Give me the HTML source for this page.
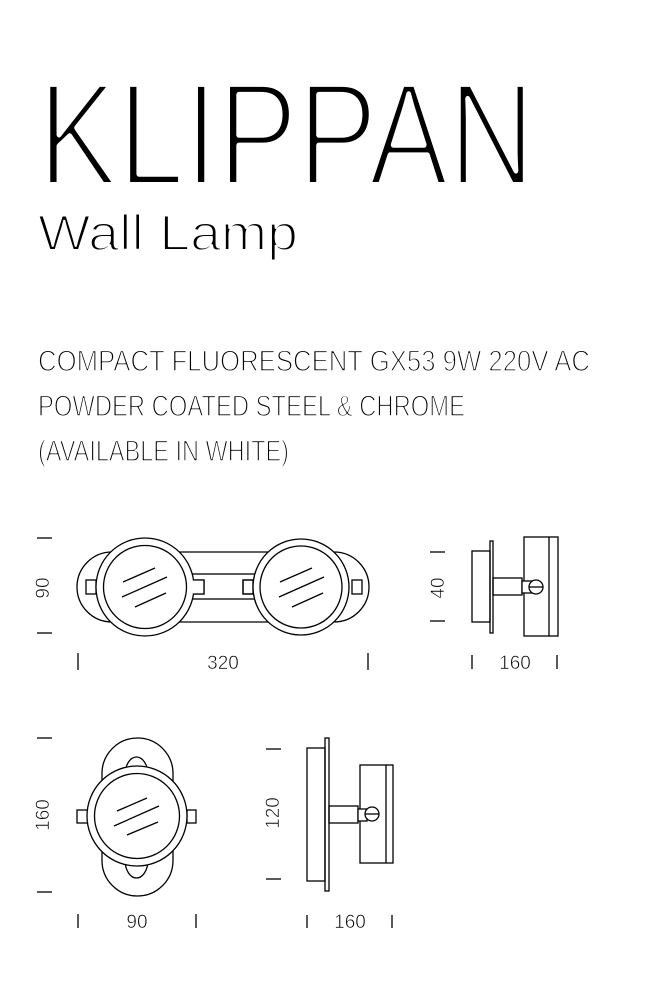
<!DOCTYPE html>
<html><head><meta charset="utf-8"><style>
html,body{margin:0;padding:0;background:#fff;}
svg{display:block;}
text{font-family:"Liberation Sans",sans-serif;}
</style></head><body>
<svg width="652" height="992" viewBox="0 0 652 992" xmlns="http://www.w3.org/2000/svg">
<text x="38" y="185" font-size="147" textLength="497" lengthAdjust="spacingAndGlyphs" fill="#000" stroke="#fff" stroke-width="6" stroke-linejoin="round">KLIPPAN</text>
<text x="38" y="250" font-size="50" textLength="260" lengthAdjust="spacingAndGlyphs" fill="#000" stroke="#fff" stroke-width="2" stroke-linejoin="round">Wall Lamp</text>
<g font-size="30" fill="#000" stroke="#fff" stroke-width="1.4" stroke-linejoin="round">
<text x="38" y="371" textLength="552" lengthAdjust="spacingAndGlyphs">COMPACT FLUORESCENT GX53 9W 220V AC</text>
<text x="38" y="416" textLength="427" lengthAdjust="spacingAndGlyphs">POWDER COATED STEEL &amp; CHROME</text>
<text x="38" y="461" textLength="251" lengthAdjust="spacingAndGlyphs">(AVAILABLE IN WHITE)</text>
</g>
<g fill="none" stroke="#000" stroke-width="1.3">
<line x1="37" y1="538" x2="52" y2="538"/><line x1="37" y1="633" x2="52" y2="633"/>
<line x1="78" y1="653" x2="78" y2="670"/><line x1="368" y1="653" x2="368" y2="670"/>
<circle cx="112" cy="587" r="35"/><circle cx="334" cy="587" r="35"/>
<path d="M177 552 H268 M177 622 H268"/>
<rect x="190" y="574" width="66" height="25" fill="#fff"/>
<rect x="86" y="580" width="10" height="14"/><rect x="193" y="580" width="11" height="14"/>
<rect x="243" y="580" width="10" height="14"/><rect x="352" y="580" width="10" height="14"/>
<circle cx="145" cy="587" r="49" fill="#fff"/><circle cx="145" cy="587" r="41.5"/>
<circle cx="301" cy="587" r="48" fill="#fff"/><circle cx="301" cy="587" r="41"/>
<rect x="193" y="580" width="11" height="14" fill="#fff" stroke="none"/>
<path d="M193 580 H204 V594 H193"/>
<path d="M253 580 H243 V594 H253"/>
<path d="M123 582 L155 568 M122 597 L167 577 M135 607 L166 593"/>
<path d="M280 582 L312 568 M279 597 L324 577 M292 607 L323 593"/>
<line x1="430" y1="552" x2="445" y2="552"/><line x1="430" y1="621" x2="445" y2="621"/>
<line x1="472" y1="655" x2="472" y2="669"/><line x1="557" y1="655" x2="557" y2="669"/>
<rect x="472" y="551" width="18" height="71"/>
<rect x="490" y="541" width="3" height="92"/>
<rect x="493" y="578" width="29" height="17"/>
<rect x="524" y="537" width="34" height="99"/><line x1="549" y1="537" x2="549" y2="636"/>
<rect x="522" y="581" width="11" height="12" fill="#fff"/>
<circle cx="536" cy="587" r="7" fill="#fff"/><line x1="529" y1="587" x2="543" y2="587"/>
<line x1="37" y1="738" x2="52" y2="738"/><line x1="37" y1="892" x2="52" y2="892"/>
<line x1="78" y1="914" x2="78" y2="928"/><line x1="196" y1="914" x2="196" y2="928"/>
<rect x="102" y="738" width="71" height="158" rx="35.5"/>
<path d="M125 775 A11.5 18 0 0 1 148 775 M125 860 A11.5 18 0 0 0 148 860"/>
<rect x="77" y="810" width="11" height="13"/><rect x="187" y="810" width="9" height="13"/>
<circle cx="137" cy="816" r="50" fill="#fff"/><circle cx="137" cy="816" r="42.5"/>
<path d="M117 811 L147 798 M114 826 L159 806 M127 835 L158 822"/>
<line x1="266" y1="749" x2="281" y2="749"/><line x1="266" y1="879" x2="281" y2="879"/>
<line x1="307" y1="915" x2="307" y2="928"/><line x1="392" y1="915" x2="392" y2="928"/>
<rect x="307" y="748" width="18" height="133"/>
<rect x="325" y="738" width="4" height="153"/>
<rect x="329" y="806" width="29" height="17"/>
<rect x="360" y="765" width="33" height="98"/><line x1="386" y1="765" x2="386" y2="863"/>
<rect x="358" y="809" width="9" height="12" fill="#fff"/>
<circle cx="372" cy="814" r="7" fill="#fff"/><line x1="365" y1="814" x2="379" y2="814"/>
</g>
<g font-size="19" fill="#000" stroke="#fff" stroke-width="0.6" text-anchor="middle">
<text x="223" y="669">320</text>
<text x="515" y="669">160</text>
<text x="137" y="928">90</text>
<text x="350" y="928">160</text>
<text transform="translate(49,588) rotate(-90)">90</text>
<text transform="translate(444,588) rotate(-90)">40</text>
<text transform="translate(49,815) rotate(-90)">160</text>
<text transform="translate(279,813) rotate(-90)">120</text>
</g>
</svg>
</body></html>
